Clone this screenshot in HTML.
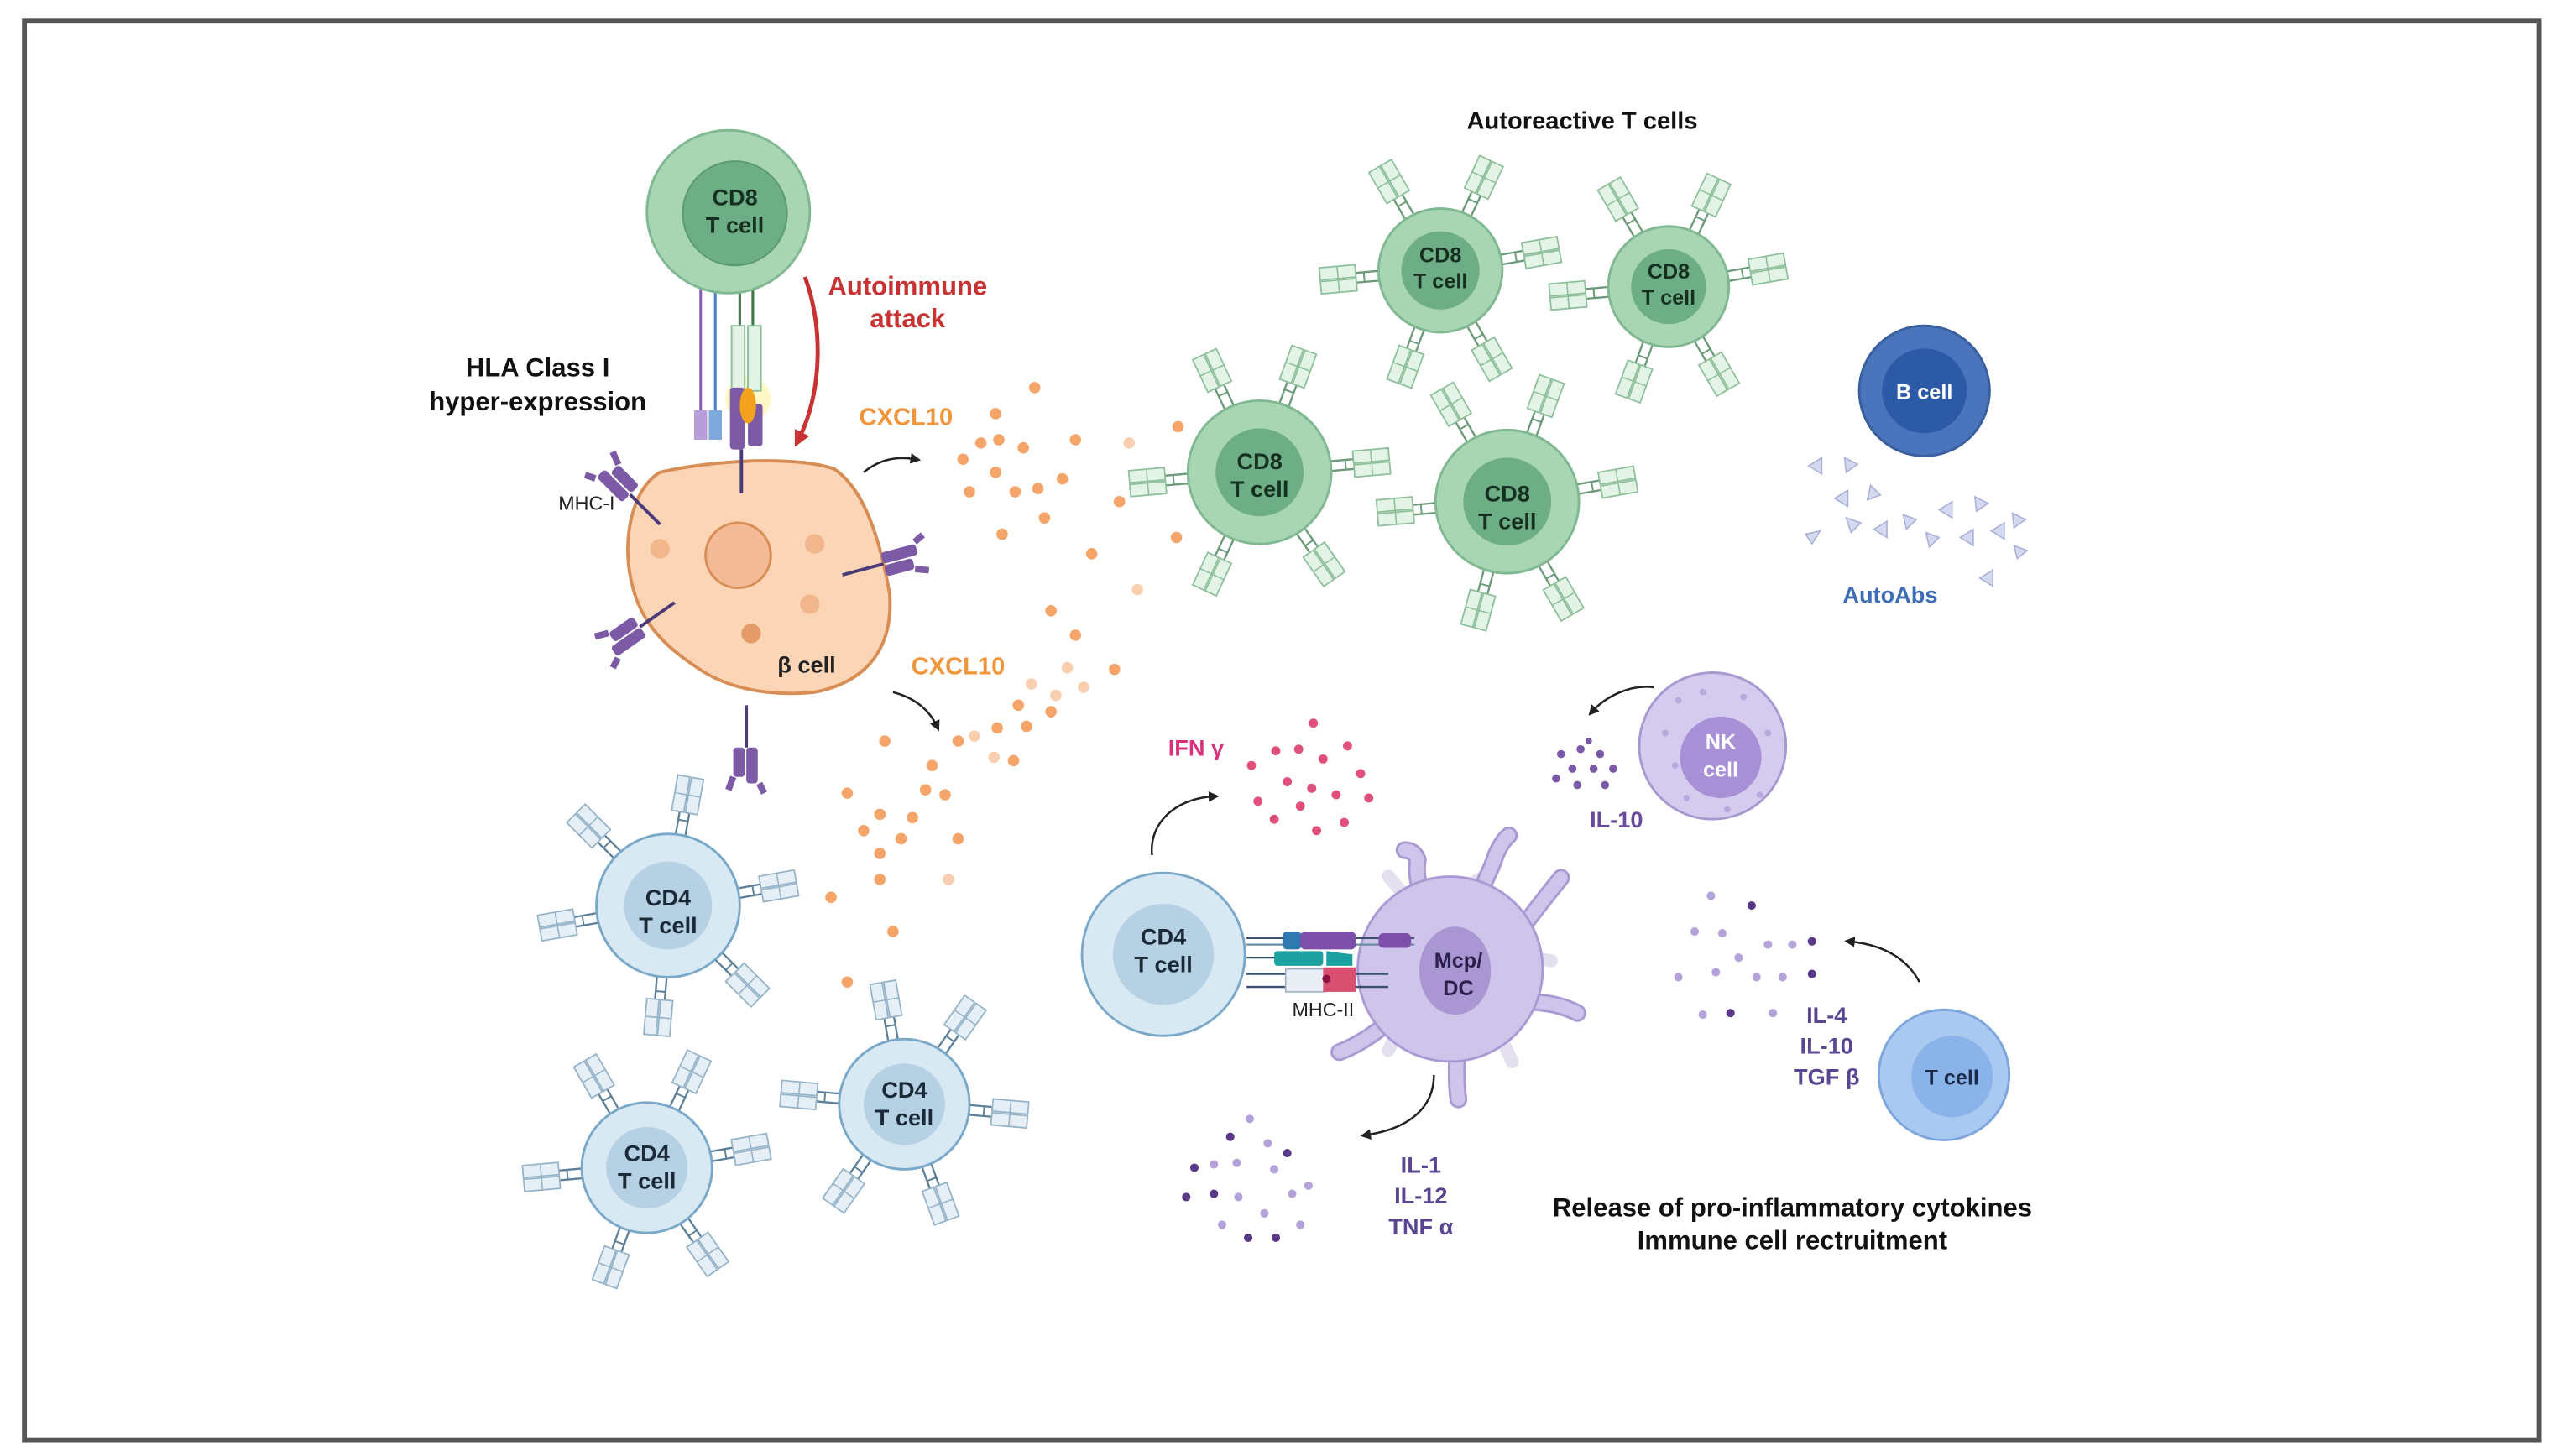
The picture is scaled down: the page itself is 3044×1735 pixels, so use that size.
<!DOCTYPE html>
<html><head><meta charset="utf-8"><style>
html,body{margin:0;padding:0;background:#fff}
svg{display:block}
text{font-family:"Liberation Sans",sans-serif;font-weight:bold;text-anchor:middle}
</style></head><body>
<svg width="3044" height="1735" viewBox="0 0 1568 894" preserveAspectRatio="none" xmlns="http://www.w3.org/2000/svg">
<defs>
<g id="rg">
<line x1="-3" y1="0" x2="-3" y2="-14" stroke="#6a9a78" stroke-width="1.2"/>
<line x1="3" y1="0" x2="3" y2="-14" stroke="#6a9a78" stroke-width="1.2"/>
<line x1="-3" y1="-9" x2="3" y2="-9" stroke="#6a9a78" stroke-width="1"/>
<rect x="-8" y="-36" width="7.5" height="22" fill="#e3f3e6" stroke="#8dbf9a" stroke-width="0.9"/>
<rect x="0.5" y="-36" width="7.5" height="22" fill="#e3f3e6" stroke="#8dbf9a" stroke-width="0.9"/>
<line x1="-8" y1="-25" x2="8" y2="-25" stroke="#8dbf9a" stroke-width="0.8"/>
</g>
<g id="rb">
<line x1="-3" y1="0" x2="-3" y2="-14" stroke="#5d7f98" stroke-width="1.2"/>
<line x1="3" y1="0" x2="3" y2="-14" stroke="#5d7f98" stroke-width="1.2"/>
<line x1="-3" y1="-9" x2="3" y2="-9" stroke="#5d7f98" stroke-width="1"/>
<rect x="-8" y="-36" width="7.5" height="22" fill="#e6eff6" stroke="#95b3c8" stroke-width="0.9"/>
<rect x="0.5" y="-36" width="7.5" height="22" fill="#e6eff6" stroke="#95b3c8" stroke-width="0.9"/>
<line x1="-8" y1="-25" x2="8" y2="-25" stroke="#95b3c8" stroke-width="0.8"/>
</g>
<g id="mhc">
<line x1="0" y1="0" x2="0" y2="-26" stroke="#4b3a78" stroke-width="2"/>
<rect x="-7" y="-48" width="7" height="22" rx="2" fill="#7d5aa6"/>
<rect x="1" y="-44" width="7" height="18" rx="2" fill="#7d5aa6"/>
<path d="M-8 -48 l-3 -6 M8 -44 l3 -8" stroke="#7d5aa6" stroke-width="4"/>
</g>
<marker id="ah" viewBox="0 0 10 10" refX="5" refY="5" markerWidth="5" markerHeight="5" orient="auto"><path d="M0 0 L10 5 L0 10 z" fill="#222"/></marker>
<marker id="ahr" viewBox="0 0 10 10" refX="5" refY="5" markerWidth="4" markerHeight="4" orient="auto"><path d="M0 0 L10 5 L0 10 z" fill="#c83232"/></marker>
</defs>
<rect x="0" y="0" width="1568" height="894" fill="#fff"/>
<rect x="15" y="13" width="1543" height="871" fill="none" stroke="#555" stroke-width="3"/>

<!-- Top CD8 -->
<line x1="430" y1="168" x2="430" y2="255" stroke="#8a5fb0" stroke-width="1.6"/>
<line x1="439" y1="168" x2="439" y2="255" stroke="#4f7fc0" stroke-width="1.6"/>
<line x1="454" y1="170" x2="454" y2="205" stroke="#3d7a45" stroke-width="1.6"/>
<line x1="462" y1="170" x2="462" y2="205" stroke="#3d7a45" stroke-width="1.6"/>
<circle cx="447" cy="130" r="50" fill="#a8d6b4" stroke="#80b892" stroke-width="1.5"/>
<circle cx="451" cy="131" r="32" fill="#6eae86" stroke="#5a9a72"/>
<text x="451" y="126" font-size="14" fill="#163020">CD8</text>
<text x="451" y="143" font-size="14" fill="#163020">T cell</text>
<rect x="426" y="252" width="8" height="18" fill="#b89ed8"/>
<rect x="435" y="252" width="8" height="18" fill="#7fa8dc"/>
<circle cx="459" cy="245" r="14" fill="#fff3a0" opacity="0.6"/>
<rect x="449" y="200" width="8" height="40" fill="#e3f3e6" stroke="#8dbf9a"/>
<rect x="459" y="200" width="8" height="40" fill="#e3f3e6" stroke="#8dbf9a"/>
<rect x="448" y="238" width="9" height="38" rx="2" fill="#7d5aa6"/>
<rect x="459" y="248" width="9" height="26" rx="2" fill="#7d5aa6"/>
<ellipse cx="459" cy="249" rx="5" ry="11" fill="#f3a21d"/>

<!-- Beta cell -->
<path d="M405 290 C440 282 490 280 512 288 C530 300 540 330 546 365 C548 395 535 418 500 425 C470 428 445 422 428 410 C405 395 392 380 387 355 C382 330 388 300 405 290 Z" fill="#fcd5b6" stroke="#d88d55" stroke-width="2"/>
<line x1="455" y1="276" x2="455" y2="303" stroke="#4b3a78" stroke-width="2"/>
<circle cx="453" cy="341" r="20" fill="#f3bb95" stroke="#d88d55" stroke-width="1.5"/>
<circle cx="405" cy="337" r="6" fill="#f1b68b"/>
<circle cx="500" cy="334" r="6" fill="#f1b68b"/>
<circle cx="497" cy="371" r="6" fill="#f1b68b"/>
<circle cx="461" cy="389" r="6" fill="#e59a6a"/>
<text x="495" y="413" font-size="14" fill="#222">β cell</text>
<use href="#mhc" transform="translate(405,322) rotate(-45)"/>
<use href="#mhc" transform="translate(517,353) rotate(75)"/>
<use href="#mhc" transform="translate(414,370) rotate(-125)"/>
<use href="#mhc" transform="translate(458,433) rotate(180)"/>
<text x="330" y="231" font-size="16" fill="#111">HLA Class I</text>
<text x="330" y="252" font-size="16" fill="#111">hyper-expression</text>
<text x="360" y="313" font-size="12" fill="#222" style="font-weight:normal">MHC-I</text>
<text x="557" y="181" font-size="16" fill="#c83232">Autoimmune</text>
<text x="557" y="201" font-size="16" fill="#c83232">attack</text>
<path d="M494 170 C505 200 505 240 490 270" fill="none" stroke="#c83232" stroke-width="2.5" marker-end="url(#ahr)"/>

<!-- arrows from beta -->
<path d="M530 290 C540 282 550 280 562 282" fill="none" stroke="#222" stroke-width="1.3" marker-end="url(#ah)"/>
<path d="M548 425 C560 428 570 435 575 446" fill="none" stroke="#222" stroke-width="1.3" marker-end="url(#ah)"/>
<text x="556" y="261" font-size="15" fill="#f0953a">CXCL10</text>
<text x="588" y="414" font-size="15" fill="#f0953a">CXCL10</text>
<g fill="#f5a56a">
<circle cx="635" cy="238" r="3.5"/><circle cx="611" cy="254" r="3.5"/><circle cx="602" cy="272" r="3.5"/><circle cx="613" cy="270" r="3.5"/><circle cx="591" cy="282" r="3.5"/><circle cx="611" cy="290" r="3.5"/><circle cx="628" cy="275" r="3.5"/><circle cx="660" cy="270" r="3.5"/><circle cx="637" cy="300" r="3.5"/><circle cx="623" cy="302" r="3.5"/><circle cx="641" cy="318" r="3.5"/><circle cx="652" cy="294" r="3.5"/><circle cx="595" cy="302" r="3.5"/><circle cx="615" cy="328" r="3.5"/><circle cx="670" cy="340" r="3.5"/><circle cx="687" cy="308" r="3.5"/><circle cx="723" cy="262" r="3.5"/><circle cx="722" cy="330" r="3.5"/><circle cx="645" cy="375" r="3.5"/><circle cx="660" cy="390" r="3.5"/><circle cx="684" cy="411" r="3.5"/><circle cx="625" cy="433" r="3.5"/><circle cx="612" cy="447" r="3.5"/><circle cx="630" cy="446" r="3.5"/><circle cx="645" cy="437" r="3.5"/><circle cx="622" cy="467" r="3.5"/><circle cx="543" cy="455" r="3.5"/><circle cx="572" cy="470" r="3.5"/><circle cx="568" cy="485" r="3.5"/><circle cx="580" cy="488" r="3.5"/><circle cx="520" cy="487" r="3.5"/><circle cx="540" cy="500" r="3.5"/><circle cx="560" cy="502" r="3.5"/><circle cx="530" cy="510" r="3.5"/><circle cx="553" cy="515" r="3.5"/><circle cx="540" cy="524" r="3.5"/><circle cx="588" cy="515" r="3.5"/><circle cx="540" cy="540" r="3.5"/><circle cx="510" cy="551" r="3.5"/><circle cx="548" cy="572" r="3.5"/><circle cx="520" cy="603" r="3.5"/><circle cx="588" cy="455" r="3.5"/>
</g>
<g fill="#f9cfb0">
<circle cx="693" cy="272" r="3.5"/><circle cx="698" cy="362" r="3.5"/><circle cx="633" cy="420" r="3.5"/><circle cx="648" cy="427" r="3.5"/><circle cx="665" cy="422" r="3.5"/><circle cx="598" cy="452" r="3.5"/><circle cx="610" cy="465" r="3.5"/><circle cx="582" cy="540" r="3.5"/><circle cx="655" cy="410" r="3.5"/>
</g>

<!-- Autoreactive T cells -->
<text x="971" y="79" font-size="15" fill="#111">Autoreactive T cells</text>
<g>
<g transform="translate(884,166)">
<use href="#rg" transform="rotate(-30) translate(0,-38)"/><use href="#rg" transform="rotate(25) translate(0,-38)"/><use href="#rg" transform="rotate(80) translate(0,-38)"/><use href="#rg" transform="rotate(150) translate(0,-38)"/><use href="#rg" transform="rotate(200) translate(0,-38)"/><use href="#rg" transform="rotate(265) translate(0,-38)"/>
<circle r="38" fill="#a8d6b4" stroke="#80b892" stroke-width="1.5"/><circle r="24" fill="#6eae86"/>
<text y="-5" font-size="13" fill="#163020">CD8</text><text y="11" font-size="13" fill="#163020">T cell</text></g>
<g transform="translate(1024,176)">
<use href="#rg" transform="rotate(-30) translate(0,-37)"/><use href="#rg" transform="rotate(25) translate(0,-37)"/><use href="#rg" transform="rotate(80) translate(0,-37)"/><use href="#rg" transform="rotate(150) translate(0,-37)"/><use href="#rg" transform="rotate(200) translate(0,-37)"/><use href="#rg" transform="rotate(265) translate(0,-37)"/>
<circle r="37" fill="#a8d6b4" stroke="#80b892" stroke-width="1.5"/><circle r="23" fill="#6eae86"/>
<text y="-5" font-size="13" fill="#163020">CD8</text><text y="11" font-size="13" fill="#163020">T cell</text></g>
<g transform="translate(773,290)">
<use href="#rg" transform="rotate(-25) translate(0,-44)"/><use href="#rg" transform="rotate(20) translate(0,-44)"/><use href="#rg" transform="rotate(85) translate(0,-44)"/><use href="#rg" transform="rotate(145) translate(0,-44)"/><use href="#rg" transform="rotate(205) translate(0,-44)"/><use href="#rg" transform="rotate(265) translate(0,-44)"/>
<circle r="44" fill="#a8d6b4" stroke="#80b892" stroke-width="1.5"/><circle r="27" fill="#6eae86"/>
<text y="-2" font-size="14" fill="#163020">CD8</text><text y="15" font-size="14" fill="#163020">T cell</text></g>
<g transform="translate(925,308)">
<use href="#rg" transform="rotate(-30) translate(0,-44)"/><use href="#rg" transform="rotate(20) translate(0,-44)"/><use href="#rg" transform="rotate(80) translate(0,-44)"/><use href="#rg" transform="rotate(150) translate(0,-44)"/><use href="#rg" transform="rotate(195) translate(0,-44)"/><use href="#rg" transform="rotate(265) translate(0,-44)"/>
<circle r="44" fill="#a8d6b4" stroke="#80b892" stroke-width="1.5"/><circle r="27" fill="#6eae86"/>
<text y="0" font-size="14" fill="#163020">CD8</text><text y="17" font-size="14" fill="#163020">T cell</text></g>
</g>

<!-- B cell -->
<circle cx="1181" cy="240" r="40" fill="#4a74bc" stroke="#3a5f9e" stroke-width="1.5"/>
<circle cx="1181" cy="240" r="26" fill="#2c5aa6"/>
<text x="1181" y="245" font-size="13" fill="#fff">B cell</text>
<g fill="#d4d9f0" stroke="#a8b0d8" stroke-width="0.8">
<path d="M1110 286 l8 -5 l0 10z"/><path d="M1132 281 l8 4 l-7 5z"/><path d="M1126 306 l8 -5 l0 10z"/><path d="M1148 298 l-2 9 l8 -3z"/><path d="M1108 328 l9 -2 l-5 8z"/><path d="M1133 318 l9 3 l-6 6z"/><path d="M1150 325 l8 -5 l0 10z"/><path d="M1168 316 l8 3 l-6 6z"/><path d="M1182 327 l8 3 l-6 6z"/><path d="M1190 313 l8 -5 l0 10z"/><path d="M1212 305 l8 4 l-7 5z"/><path d="M1203 330 l8 -5 l0 10z"/><path d="M1222 326 l8 -5 l0 10z"/><path d="M1235 315 l8 4 l-7 5z"/><path d="M1238 343 l-2 -8 l8 3z"/><path d="M1215 355 l8 -5 l0 10z"/>
</g>
<text x="1160" y="370" font-size="14" fill="#3d6db5">AutoAbs</text>

<!-- NK cell -->
<circle cx="1051" cy="458" r="45" fill="#d5cbee" stroke="#a898d0" stroke-width="1.5"/>
<circle cx="1056" cy="465" r="25" fill="#a790d6"/>
<g fill="#b8a8de"><circle cx="1030" cy="430" r="2"/><circle cx="1045" cy="425" r="2"/><circle cx="1070" cy="428" r="2"/><circle cx="1085" cy="450" r="2"/><circle cx="1028" cy="470" r="2"/><circle cx="1035" cy="490" r="2"/><circle cx="1080" cy="488" r="2"/><circle cx="1060" cy="497" r="2"/><circle cx="1022" cy="450" r="2"/></g>
<text x="1056" y="460" font-size="13" fill="#fff">NK</text><text x="1056" y="477" font-size="13" fill="#fff">cell</text>
<path d="M1015 422 C1000 420 985 428 977 437" fill="none" stroke="#222" stroke-width="1.3" marker-end="url(#ah)"/>
<g fill="#7a5aa8"><circle cx="958" cy="463" r="2.5"/><circle cx="970" cy="460" r="2.5"/><circle cx="982" cy="463" r="2.5"/><circle cx="965" cy="472" r="2.5"/><circle cx="978" cy="472" r="2.5"/><circle cx="990" cy="472" r="2.5"/><circle cx="955" cy="478" r="2.5"/><circle cx="968" cy="482" r="2.5"/><circle cx="985" cy="482" r="2.5"/><circle cx="975" cy="455" r="2"/></g>
<text x="992" y="508" font-size="14" fill="#6a4a9a">IL-10</text>

<!-- IFN -->
<text x="734" y="464" font-size="14" fill="#d8307a">IFN γ</text>
<g fill="#e0507a"><circle cx="806" cy="444" r="2.8"/><circle cx="768" cy="470" r="2.8"/><circle cx="783" cy="461" r="2.8"/><circle cx="797" cy="460" r="2.8"/><circle cx="812" cy="466" r="2.8"/><circle cx="827" cy="458" r="2.8"/><circle cx="835" cy="475" r="2.8"/><circle cx="790" cy="480" r="2.8"/><circle cx="805" cy="484" r="2.8"/><circle cx="820" cy="488" r="2.8"/><circle cx="772" cy="492" r="2.8"/><circle cx="782" cy="503" r="2.8"/><circle cx="798" cy="495" r="2.8"/><circle cx="808" cy="510" r="2.8"/><circle cx="825" cy="505" r="2.8"/><circle cx="840" cy="490" r="2.8"/></g>
<path d="M707 525 C705 505 722 490 745 489" fill="none" stroke="#222" stroke-width="1.3" marker-end="url(#ah)"/>

<!-- DC -->
<g fill="none" stroke-linecap="round">
<g stroke="#e4e0ef" stroke-width="8">
<path d="M870 560 Q858 545 852 538"/><path d="M898 548 Q905 540 912 538"/><path d="M935 590 Q945 588 952 590"/><path d="M858 630 Q855 640 852 645"/><path d="M920 635 Q925 645 928 652"/>
</g>
<g stroke="#aa9ad4" stroke-width="11">
<path d="M875 555 Q868 540 870 528 Q868 522 862 522"/>
<path d="M905 553 Q915 535 918 525 Q922 516 926 513"/>
<path d="M930 575 Q945 555 958 539"/>
<path d="M935 615 Q955 615 968 622"/>
<path d="M895 640 Q893 660 895 675"/>
<path d="M855 625 Q838 640 822 646"/>
</g>
<g stroke="#cfc4ea" stroke-width="8">
<path d="M875 555 Q868 540 870 528 Q868 522 862 522"/>
<path d="M905 553 Q915 535 918 525 Q922 516 926 513"/>
<path d="M930 575 Q945 555 958 539"/>
<path d="M935 615 Q955 615 968 622"/>
<path d="M895 640 Q893 660 895 675"/>
<path d="M855 625 Q838 640 822 646"/>
</g>
</g>
<circle cx="890" cy="595" r="57.5" fill="#aa9ad4"/>
<circle cx="890" cy="595" r="56" fill="#cfc4ea"/>
<ellipse cx="893" cy="596" rx="22" ry="27" fill="#a996d2"/>
<text x="895" y="594" font-size="13" fill="#2a1e4a">Mcp/</text><text x="895" y="611" font-size="13" fill="#2a1e4a">DC</text>

<!-- CD4 main -->
<circle cx="714" cy="586" r="50" fill="#d8e9f3" stroke="#7aa8c8" stroke-width="1.5"/>
<circle cx="714" cy="586" r="31" fill="#b5d1e3"/>
<text x="714" y="580" font-size="14" fill="#1a2a38">CD4</text><text x="714" y="597" font-size="14" fill="#1a2a38">T cell</text>
<!-- synapse -->
<line x1="765" y1="576" x2="868" y2="576" stroke="#3a5070" stroke-width="1.2"/>
<line x1="765" y1="580" x2="868" y2="580" stroke="#6a8aa0" stroke-width="1.2"/>
<rect x="787" y="572" width="12" height="11" rx="3" fill="#2f78b0"/>
<rect x="798" y="572" width="34" height="11" rx="3" fill="#7d4fa8"/>
<rect x="846" y="573" width="20" height="9" rx="3" fill="#7d4fa8"/>
<line x1="765" y1="588" x2="810" y2="588" stroke="#2a5060" stroke-width="1.2"/>
<rect x="782" y="584" width="30" height="9" rx="2" fill="#1ea0a0"/>
<path d="M814 584 L830 586 L830 593 L814 593 Z" fill="#1ea0a0"/>
<line x1="765" y1="598" x2="852" y2="598" stroke="#3a5070" stroke-width="1.2"/>
<line x1="765" y1="606" x2="852" y2="606" stroke="#3a5070" stroke-width="1.2"/>
<rect x="789" y="595" width="24" height="14" fill="#e8eef4" stroke="#9ab0c4" stroke-width="0.8"/>
<rect x="812" y="594" width="20" height="15" fill="#d84f70"/>
<circle cx="814" cy="601" r="2.5" fill="#8a1040"/>
<text x="812" y="624" font-size="12" fill="#222" style="font-weight:normal">MHC-II</text>

<!-- IL-1 group -->
<path d="M880 660 C880 680 865 693 838 697" fill="none" stroke="#222" stroke-width="1.3" marker-end="url(#ah)"/>
<g fill="#b4a2da"><circle cx="767" cy="687" r="2.6"/><circle cx="759" cy="714" r="2.6"/><circle cx="778" cy="702" r="2.6"/><circle cx="782" cy="718" r="2.6"/><circle cx="745" cy="715" r="2.6"/><circle cx="760" cy="735" r="2.6"/><circle cx="776" cy="745" r="2.6"/><circle cx="793" cy="733" r="2.6"/><circle cx="803" cy="728" r="2.6"/><circle cx="798" cy="752" r="2.6"/><circle cx="750" cy="752" r="2.6"/></g>
<g fill="#5a3a88"><circle cx="755" cy="698" r="2.6"/><circle cx="733" cy="717" r="2.6"/><circle cx="745" cy="733" r="2.6"/><circle cx="790" cy="708" r="2.6"/><circle cx="783" cy="760" r="2.6"/><circle cx="766" cy="760" r="2.6"/><circle cx="728" cy="735" r="2.6"/></g>
<text x="872" y="720" font-size="14" fill="#5a4690">IL-1</text>
<text x="872" y="739" font-size="14" fill="#5a4690">IL-12</text>
<text x="872" y="758" font-size="14" fill="#5a4690">TNF α</text>

<!-- T cell right -->
<circle cx="1193" cy="660" r="40" fill="#a9c9f1" stroke="#7ea6dc" stroke-width="1.5"/>
<circle cx="1198" cy="661" r="25" fill="#8ab3ea"/>
<text x="1198" y="666" font-size="13" fill="#1a2a48">T cell</text>
<path d="M1178 603 C1170 588 1155 580 1135 578" fill="none" stroke="#222" stroke-width="1.3" marker-end="url(#ah)"/>
<g fill="#b4a2da"><circle cx="1050" cy="550" r="2.6"/><circle cx="1040" cy="572" r="2.6"/><circle cx="1057" cy="573" r="2.6"/><circle cx="1067" cy="588" r="2.6"/><circle cx="1053" cy="597" r="2.6"/><circle cx="1030" cy="600" r="2.6"/><circle cx="1078" cy="600" r="2.6"/><circle cx="1094" cy="600" r="2.6"/><circle cx="1045" cy="623" r="2.6"/><circle cx="1088" cy="622" r="2.6"/><circle cx="1085" cy="580" r="2.6"/><circle cx="1100" cy="580" r="2.6"/></g>
<g fill="#5a3a88"><circle cx="1075" cy="556" r="2.6"/><circle cx="1112" cy="578" r="2.6"/><circle cx="1112" cy="598" r="2.6"/><circle cx="1062" cy="622" r="2.6"/></g>
<text x="1121" y="628" font-size="14" fill="#5a4690">IL-4</text>
<text x="1121" y="647" font-size="14" fill="#5a4690">IL-10</text>
<text x="1121" y="666" font-size="14" fill="#5a4690">TGF β</text>
<text x="1100" y="747" font-size="16" fill="#111">Release of pro-inflammatory cytokines</text>
<text x="1100" y="767" font-size="16" fill="#111">Immune cell rectruitment</text>

<!-- CD4 cells -->
<g transform="translate(410,556)">
<use href="#rb" transform="rotate(-45) translate(0,-44)"/><use href="#rb" transform="rotate(10) translate(0,-44)"/><use href="#rb" transform="rotate(80) translate(0,-44)"/><use href="#rb" transform="rotate(135) translate(0,-44)"/><use href="#rb" transform="rotate(185) translate(0,-44)"/><use href="#rb" transform="rotate(260) translate(0,-44)"/>
<circle r="44" fill="#d8e9f3" stroke="#7aa8c8" stroke-width="1.5"/><circle r="27" fill="#b5d1e3"/>
<text y="0" font-size="14" fill="#1a2a38">CD4</text><text y="17" font-size="14" fill="#1a2a38">T cell</text></g>
<g transform="translate(397,717)">
<use href="#rb" transform="rotate(-30) translate(0,-40)"/><use href="#rb" transform="rotate(25) translate(0,-40)"/><use href="#rb" transform="rotate(80) translate(0,-40)"/><use href="#rb" transform="rotate(145) translate(0,-40)"/><use href="#rb" transform="rotate(200) translate(0,-40)"/><use href="#rb" transform="rotate(265) translate(0,-40)"/>
<circle r="40" fill="#d8e9f3" stroke="#7aa8c8" stroke-width="1.5"/><circle r="25" fill="#b5d1e3"/>
<text y="-4" font-size="14" fill="#1a2a38">CD4</text><text y="13" font-size="14" fill="#1a2a38">T cell</text></g>
<g transform="translate(555,678)">
<use href="#rb" transform="rotate(-10) translate(0,-40)"/><use href="#rb" transform="rotate(35) translate(0,-40)"/><use href="#rb" transform="rotate(95) translate(0,-40)"/><use href="#rb" transform="rotate(160) translate(0,-40)"/><use href="#rb" transform="rotate(215) translate(0,-40)"/><use href="#rb" transform="rotate(275) translate(0,-40)"/>
<circle r="40" fill="#d8e9f3" stroke="#7aa8c8" stroke-width="1.5"/><circle r="25" fill="#b5d1e3"/>
<text y="-4" font-size="14" fill="#1a2a38">CD4</text><text y="13" font-size="14" fill="#1a2a38">T cell</text></g>
</svg>
</body></html>
